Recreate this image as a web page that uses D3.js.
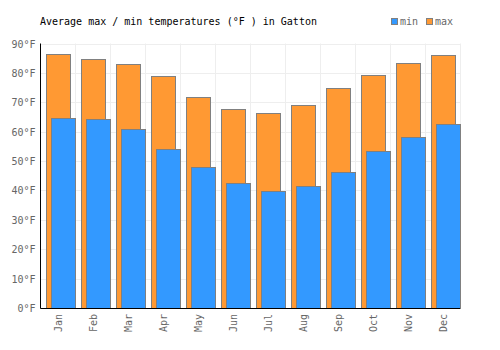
<!DOCTYPE html>
<html lang="en">
  <head>
    <meta charset="UTF-8" />
    <title>Gatton temperatures</title>
    <script src="https://cdn.jsdelivr.net/npm/d3@7"></script>
    <style>
      body { margin: 0; background: #fff; }
      text { font-family: 'DejaVu Sans Mono', monospace; font-size: 10px; }
    </style>
  </head>
  <body>
    <div id="chart"></div>
    <script>
      const months = ['Jan', 'Feb', 'Mar', 'Apr', 'May', 'Jun', 'Jul', 'Aug', 'Sep', 'Oct', 'Nov', 'Dec']
      const maxTemps = [86.3, 84.8, 82.9, 78.8, 71.9, 67.6, 66.2, 69.0, 74.8, 79.3, 83.3, 86.1]
      const minTemps = [64.5, 64.2, 60.8, 54.1, 48.0, 42.5, 39.8, 41.4, 46.3, 53.4, 58.2, 62.5]
      const yTicks = [0, 10, 20, 30, 40, 50, 60, 70, 80, 90]

      const width = 500
      const height = 350
      const m = { top: 43.5, right: 40, bottom: 42, left: 40.5 }

      const svg = d3.select('#chart').append('svg')
        .attr('width', width).attr('height', height)

      const x = d3.scaleBand().domain(months).range([m.left, width - m.right])
      const y = d3.scaleLinear().domain([0, 90]).range([height - m.bottom, m.top])

      // grid
      const grid = svg.append('g').attr('stroke', '#eeeeee').attr('stroke-width', 1)
      grid.selectAll('.h').data(yTicks).join('line')
        .attr('x1', m.left).attr('x2', width - m.right)
        .attr('y1', d => Math.round(y(d)) + 0.5).attr('y2', d => Math.round(y(d)) + 0.5)
      grid.selectAll('.v').data(months.slice(1).concat(['end'])).join('line')
        .attr('x1', (d, i) => Math.round(m.left + x.bandwidth() * (i + 1)) + 0.5)
        .attr('x2', (d, i) => Math.round(m.left + x.bandwidth() * (i + 1)) + 0.5)
        .attr('y1', m.top).attr('y2', height - m.bottom)

      const bw = x.bandwidth()
      // max bars
      svg.append('g').selectAll('rect').data(maxTemps).join('rect')
        .attr('x', (d, i) => Math.round(x(months[i]) + bw * 0.16) + 0.5)
        .attr('width', Math.round(bw * 0.68))
        .attr('y', d => Math.round(y(d)) + 0.5)
        .attr('height', d => y(0) - Math.round(y(d)))
        .attr('fill', '#ff9933').attr('stroke', '#808080').attr('stroke-width', 1)

      // min bars
      svg.append('g').selectAll('rect').data(minTemps).join('rect')
        .attr('x', (d, i) => Math.round(x(months[i]) + bw * 0.3) + 0.5)
        .attr('width', Math.round(bw * 0.7))
        .attr('y', d => Math.round(y(d)) + 0.5)
        .attr('height', d => y(0) - Math.round(y(d)))
        .attr('fill', '#3399ff').attr('stroke', '#808080').attr('stroke-width', 1)

      // axes
      svg.append('line')
        .attr('x1', m.left).attr('x2', m.left)
        .attr('y1', m.top).attr('y2', y(0) + 0.5)
        .attr('stroke', '#000')
      svg.append('line')
        .attr('x1', m.left).attr('x2', width - m.right)
        .attr('y1', Math.round(y(0)) + 0.5).attr('y2', Math.round(y(0)) + 0.5)
        .attr('stroke', '#000')

      svg.append('g').selectAll('text').data(yTicks).join('text')
        .attr('x', m.left - 5).attr('y', d => y(d) + 4)
        .attr('text-anchor', 'end').attr('fill', '#666')
        .text(d => d + '°F')

      svg.append('g').selectAll('text').data(months).join('text')
        .attr('transform', d => `translate(${x(d) + bw / 2 + 4},${y(0) + 6}) rotate(-90)`)
        .attr('text-anchor', 'end').attr('fill', '#666')
        .text(d => d)

      svg.append('text').attr('x', 40).attr('y', 25).attr('fill', '#000')
        .text('Average max / min temperatures (°F ) in Gatton')

      // legend
      const legend = [['min', '#3399ff', 391], ['max', '#ff9933', 426]]
      const lg = svg.append('g').selectAll('g').data(legend).join('g')
      lg.append('rect')
        .attr('x', d => d[2] + 0.5).attr('y', 18.5).attr('width', 6).attr('height', 6)
        .attr('fill', d => d[1]).attr('stroke', '#808080')
      lg.append('text').attr('x', d => d[2] + 9).attr('y', 25).attr('fill', '#666')
        .text(d => d[0])
    </script>
  </body>
</html>
